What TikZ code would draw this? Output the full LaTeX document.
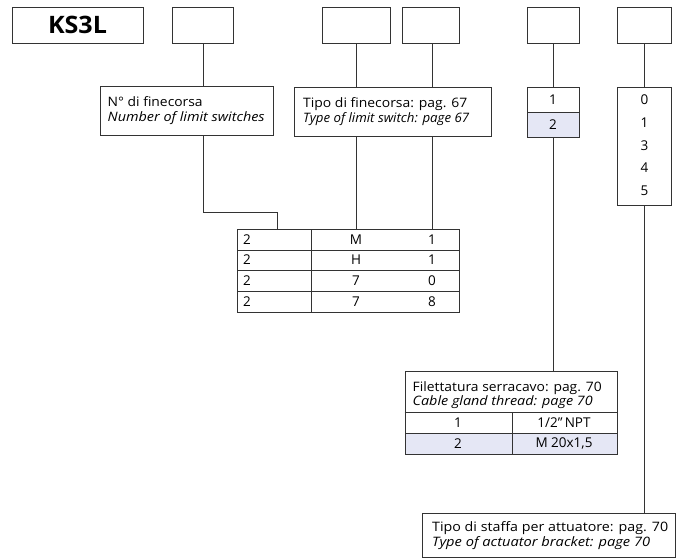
\documentclass[tikz,border=0pt]{standalone}
\usepackage{graphicx}
\usepackage{fontspec}
\setmainfont{Open Sans}
\definecolor{linec}{HTML}{333333}
\definecolor{lav}{HTML}{E5E7F5}
\newcommand\fitw[2]{\resizebox{#1}{\height}{#2}}
\begin{document}
\begin{tikzpicture}[x=1pt,y=-1pt,
  box/.style={draw=linec, line width=0.8pt, inner sep=0pt, minimum height=36pt},
  frame/.style={draw=linec, line width=0.8pt, inner sep=0pt},
  conn/.style={draw=linec, line width=0.8pt},
  txt/.style={inner sep=0pt, font=\fontsize{13.5}{16}\selectfont},
  lbl/.style={inner sep=0pt, anchor=base west, font=\fontsize{13}{16}\selectfont}]
\useasboundingbox (0,0) rectangle (676,557);
% top boxes
\node[box, minimum width=131pt, font=\fontsize{24}{26}\bfseries] (ks) at (77.5,25) {\fitw{59pt}{KS3L}};
\node[box, minimum width=61pt] (b2) at (203,25) {};
\node[box, minimum width=68pt] (b3) at (356,25) {};
\node[box, minimum width=57pt] (b4) at (431,25) {};
\node[box, minimum width=52pt] (b5) at (553,25) {};
\node[box, minimum width=54pt] (b6) at (644.5,25) {};
% label boxes
\node[frame, minimum width=173pt, minimum height=49pt] (n) at (186.5,110.5) {};
\node[lbl] (n1) at (107.5,106) {\fitw{95pt}{N° di finecorsa}};
\node[lbl] (n2) at (107.5,121) {\fitw{157pt}{\itshape Number of limit switches}};
\node[frame, minimum width=197pt, minimum height=49pt] (t) at (392.5,111.5) {};
\node[lbl] (t1) at (303,107) {\fitw{164pt}{Tipo di finecorsa: pag. 67}};
\node[lbl] (t2) at (303,122) {\fitw{166pt}{\itshape Type of limit switch: page 67}};
% option box 5
\node[frame, minimum width=52pt, minimum height=25pt] (o5a) at (553,99.5) {};
\node[frame, fill=lav, minimum width=52pt, minimum height=25pt] (o5b) at (553,124.5) {};
\node[txt] at (o5a) {1};
\node[txt] at (o5b) {2};
% option box 6
\node[frame, minimum width=54pt, minimum height=118pt] (o6) at (644.5,146) {};
\node[txt] at (644.5,100) {0};
\node[txt] at (644.5,123) {1};
\node[txt] at (644.5,145.5) {3};
\node[txt] at (644.5,168) {4};
\node[txt] at (644.5,190.5) {5};
% main table
\node[frame, minimum width=222pt, minimum height=83pt] (tab) at (348,270.5) {};
\draw[conn] (237,250) -- (459,250) (237,270.5) -- (459,270.5) (237,291) -- (459,291) (311,229) -- (311,312);
\foreach \y/\a/\b [count=\i] in {239.5/M/1, 260/H/1, 281/7/0, 301.5/7/8}{
  \node[txt, anchor=west] (r\i a) at (243,\y) {2};
  \node[txt] (r\i b) at (356,\y) {\a};
  \node[txt] (r\i c) at (432,\y) {\b};
}
% cable gland table
\node[frame, minimum width=212pt, minimum height=83pt] (g) at (511,412.5) {};
\node[frame, fill=lav, minimum width=212pt, minimum height=21pt] (g2) at (511,443.5) {};
\draw[conn] (g.west |- 0,412) -- (g.east |- 0,412) (512,412) -- (512,454);
\node[lbl] (g1) at (412.5,391) {\fitw{189pt}{Filettatura serracavo: pag. 70}};
\node[lbl] (g2t) at (412.5,405) {\fitw{180pt}{\itshape Cable gland thread: page 70}};
\node[txt] at (458,422.5) {1};
\node[txt] at (564,422.5) {1/2”\,NPT};
\node[txt] at (458,443.5) {2};
\node[txt] at (564,443.5) {M 20x1,5};
% bottom box
\node[frame, minimum width=253pt, minimum height=44pt] (s) at (548.5,535) {};
\node[lbl] (s1) at (432,531) {\fitw{236pt}{Tipo di staffa per attuatore: pag. 70}};
\node[lbl] (s2) at (432,546) {\fitw{218pt}{\itshape Type of actuator bracket: page 70}};
% connectors
\draw[conn] (b2.south) -- (b2.south |- n.north);
\draw[conn] (b2.south |- n.south) -- (203,212) -- (277,212) -- (277,229);
\draw[conn] (b3.south) -- (b3.south |- t.north);
\draw[conn] (b3.south |- t.south) -- (b3.south |- tab.north);
\draw[conn] (432,43) -- (432,87);
\draw[conn] (432,136) -- (432,229);
\draw[conn] (b5.south) -- (o5a.north);
\draw[conn] (o5b.south) -- (o5b.south |- g.north);
\draw[conn] (b6.south) -- (o6.north);
\draw[conn] (o6.south) -- (o6.south |- s.north);
\end{tikzpicture}
\end{document}
